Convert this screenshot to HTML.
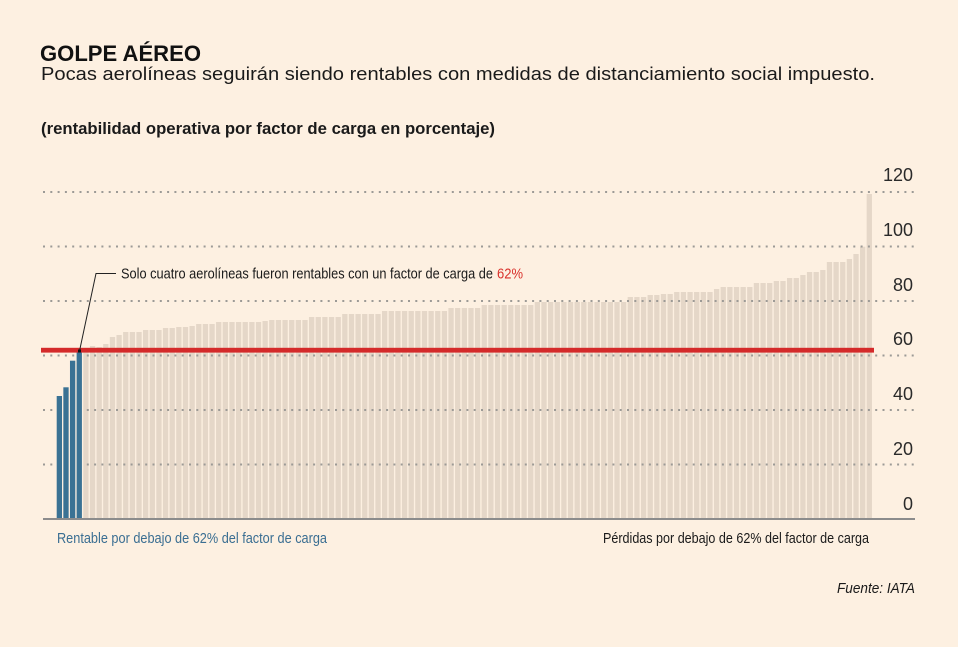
<!DOCTYPE html>
<html>
<head>
<meta charset="utf-8">
<style>
html,body{margin:0;padding:0;background:#fdf0e1;}
svg{display:block;}
text{font-family:"Liberation Sans",Arial,sans-serif;}
</style>
</head>
<body>
<svg width="958" height="647" viewBox="0 0 958 647" xmlns="http://www.w3.org/2000/svg">
<rect x="0" y="0" width="958" height="647" fill="#fdf0e1"/>

<!-- Titles -->
<text x="40" y="61" font-size="22" font-weight="bold" fill="#111" textLength="161" lengthAdjust="spacingAndGlyphs">GOLPE AÉREO</text>
<text x="41" y="80" font-size="18.5" fill="#1a1a1a" textLength="834" lengthAdjust="spacingAndGlyphs">Pocas aerolíneas seguirán siendo rentables con medidas de distanciamiento social impuesto.</text>
<text x="41" y="134" font-size="17" font-weight="bold" fill="#1a1a1a" textLength="454" lengthAdjust="spacingAndGlyphs">(rentabilidad operativa por factor de carga en porcentaje)</text>

<!-- Beige bars -->
<g fill="#e5d7c8">
<rect x="83.26" y="348" width="5.3" height="171"/>
<rect x="89.90" y="346" width="5.3" height="173"/>
<rect x="96.53" y="347" width="5.3" height="172"/>
<rect x="103.17" y="344" width="5.3" height="175"/>
<rect x="109.81" y="337" width="5.3" height="182"/>
<rect x="116.45" y="335" width="5.3" height="184"/>
<rect x="123.09" y="332" width="5.3" height="187"/>
<rect x="129.73" y="332" width="5.3" height="187"/>
<rect x="136.37" y="332" width="5.3" height="187"/>
<rect x="143.01" y="330" width="5.3" height="189"/>
<rect x="149.65" y="330" width="5.3" height="189"/>
<rect x="156.29" y="330" width="5.3" height="189"/>
<rect x="162.92" y="328" width="5.3" height="191"/>
<rect x="169.56" y="328" width="5.3" height="191"/>
<rect x="176.20" y="327" width="5.3" height="192"/>
<rect x="182.84" y="327" width="5.3" height="192"/>
<rect x="189.48" y="326" width="5.3" height="193"/>
<rect x="196.12" y="324" width="5.3" height="195"/>
<rect x="202.76" y="324" width="5.3" height="195"/>
<rect x="209.40" y="324" width="5.3" height="195"/>
<rect x="216.04" y="322" width="5.3" height="197"/>
<rect x="222.68" y="322" width="5.3" height="197"/>
<rect x="229.31" y="322" width="5.3" height="197"/>
<rect x="235.95" y="322" width="5.3" height="197"/>
<rect x="242.59" y="322" width="5.3" height="197"/>
<rect x="249.23" y="322" width="5.3" height="197"/>
<rect x="255.87" y="322" width="5.3" height="197"/>
<rect x="262.51" y="321" width="5.3" height="198"/>
<rect x="269.15" y="320" width="5.3" height="199"/>
<rect x="275.79" y="320" width="5.3" height="199"/>
<rect x="282.43" y="320" width="5.3" height="199"/>
<rect x="289.07" y="320" width="5.3" height="199"/>
<rect x="295.70" y="320" width="5.3" height="199"/>
<rect x="302.34" y="320" width="5.3" height="199"/>
<rect x="308.98" y="317" width="5.3" height="202"/>
<rect x="315.62" y="317" width="5.3" height="202"/>
<rect x="322.26" y="317" width="5.3" height="202"/>
<rect x="328.90" y="317" width="5.3" height="202"/>
<rect x="335.54" y="317" width="5.3" height="202"/>
<rect x="342.18" y="314" width="5.3" height="205"/>
<rect x="348.82" y="314" width="5.3" height="205"/>
<rect x="355.46" y="314" width="5.3" height="205"/>
<rect x="362.09" y="314" width="5.3" height="205"/>
<rect x="368.73" y="314" width="5.3" height="205"/>
<rect x="375.37" y="314" width="5.3" height="205"/>
<rect x="382.01" y="311" width="5.3" height="208"/>
<rect x="388.65" y="311" width="5.3" height="208"/>
<rect x="395.29" y="311" width="5.3" height="208"/>
<rect x="401.93" y="311" width="5.3" height="208"/>
<rect x="408.57" y="311" width="5.3" height="208"/>
<rect x="415.21" y="311" width="5.3" height="208"/>
<rect x="421.85" y="311" width="5.3" height="208"/>
<rect x="428.48" y="311" width="5.3" height="208"/>
<rect x="435.12" y="311" width="5.3" height="208"/>
<rect x="441.76" y="311" width="5.3" height="208"/>
<rect x="448.40" y="308" width="5.3" height="211"/>
<rect x="455.04" y="308" width="5.3" height="211"/>
<rect x="461.68" y="308" width="5.3" height="211"/>
<rect x="468.32" y="308" width="5.3" height="211"/>
<rect x="474.96" y="308" width="5.3" height="211"/>
<rect x="481.60" y="305" width="5.3" height="214"/>
<rect x="488.24" y="305" width="5.3" height="214"/>
<rect x="494.87" y="305" width="5.3" height="214"/>
<rect x="501.51" y="305" width="5.3" height="214"/>
<rect x="508.15" y="305" width="5.3" height="214"/>
<rect x="514.79" y="305" width="5.3" height="214"/>
<rect x="521.43" y="305" width="5.3" height="214"/>
<rect x="528.07" y="305" width="5.3" height="214"/>
<rect x="534.71" y="302" width="5.3" height="217"/>
<rect x="541.35" y="302" width="5.3" height="217"/>
<rect x="547.99" y="302" width="5.3" height="217"/>
<rect x="554.63" y="302" width="5.3" height="217"/>
<rect x="561.26" y="302" width="5.3" height="217"/>
<rect x="567.90" y="302" width="5.3" height="217"/>
<rect x="574.54" y="302" width="5.3" height="217"/>
<rect x="581.18" y="302" width="5.3" height="217"/>
<rect x="587.82" y="302" width="5.3" height="217"/>
<rect x="594.46" y="302" width="5.3" height="217"/>
<rect x="601.10" y="302" width="5.3" height="217"/>
<rect x="607.74" y="302" width="5.3" height="217"/>
<rect x="614.38" y="302" width="5.3" height="217"/>
<rect x="621.02" y="302" width="5.3" height="217"/>
<rect x="627.65" y="297" width="5.3" height="222"/>
<rect x="634.29" y="297" width="5.3" height="222"/>
<rect x="640.93" y="297" width="5.3" height="222"/>
<rect x="647.57" y="295" width="5.3" height="224"/>
<rect x="654.21" y="295" width="5.3" height="224"/>
<rect x="660.85" y="294" width="5.3" height="225"/>
<rect x="667.49" y="294" width="5.3" height="225"/>
<rect x="674.13" y="292" width="5.3" height="227"/>
<rect x="680.77" y="292" width="5.3" height="227"/>
<rect x="687.41" y="292" width="5.3" height="227"/>
<rect x="694.04" y="292" width="5.3" height="227"/>
<rect x="700.68" y="292" width="5.3" height="227"/>
<rect x="707.32" y="292" width="5.3" height="227"/>
<rect x="713.96" y="289" width="5.3" height="230"/>
<rect x="720.60" y="287" width="5.3" height="232"/>
<rect x="727.24" y="287" width="5.3" height="232"/>
<rect x="733.88" y="287" width="5.3" height="232"/>
<rect x="740.52" y="287" width="5.3" height="232"/>
<rect x="747.16" y="287" width="5.3" height="232"/>
<rect x="753.80" y="283" width="5.3" height="236"/>
<rect x="760.43" y="283" width="5.3" height="236"/>
<rect x="767.07" y="283" width="5.3" height="236"/>
<rect x="773.71" y="281" width="5.3" height="238"/>
<rect x="780.35" y="281" width="5.3" height="238"/>
<rect x="786.99" y="278" width="5.3" height="241"/>
<rect x="793.63" y="278" width="5.3" height="241"/>
<rect x="800.27" y="275" width="5.3" height="244"/>
<rect x="806.91" y="272" width="5.3" height="247"/>
<rect x="813.55" y="272" width="5.3" height="247"/>
<rect x="820.19" y="270" width="5.3" height="249"/>
<rect x="826.82" y="262" width="5.3" height="257"/>
<rect x="833.46" y="262" width="5.3" height="257"/>
<rect x="840.10" y="262" width="5.3" height="257"/>
<rect x="846.74" y="259" width="5.3" height="260"/>
<rect x="853.38" y="254" width="5.3" height="265"/>
<rect x="860.02" y="246.7" width="5.3" height="272.3"/>
<rect x="866.66" y="194" width="5.3" height="325"/>
</g>

<!-- Dotted gridlines -->
<g stroke="#9c9a96" stroke-width="2" stroke-dasharray="2 5.3" fill="none">
<line x1="43" y1="192" x2="916" y2="192"/>
<line x1="43" y1="246.5" x2="916" y2="246.5"/>
<line x1="43" y1="301" x2="916" y2="301"/>
<line x1="43" y1="355.5" x2="916" y2="355.5"/>
<line x1="43" y1="410" x2="916" y2="410"/>
<line x1="43" y1="464.5" x2="916" y2="464.5"/>
</g>

<!-- Blue bars -->
<g fill="#3a7294">
<rect x="56.70" y="396" width="5.3" height="123"/>
<rect x="63.34" y="387.3" width="5.3" height="131.7"/>
<rect x="69.98" y="360.7" width="5.3" height="158.3"/>
<rect x="76.62" y="352" width="5.3" height="167"/>
</g>

<!-- Baseline -->
<line x1="43" y1="519" x2="915" y2="519" stroke="#8c8c8c" stroke-width="2"/>

<!-- Red line at 62% -->
<rect x="41" y="347.8" width="833" height="4.8" fill="#d42a2a"/>

<!-- Leader -->
<polyline points="116,273.5 96,273.5 79.5,351" fill="none" stroke="#222" stroke-width="1"/>
<rect x="78" y="349.5" width="3" height="3" fill="#111"/>

<!-- Annotation -->
<text x="121" y="278.5" font-size="14.5" fill="#1a1a1a" textLength="372" lengthAdjust="spacingAndGlyphs">Solo cuatro aerolíneas fueron rentables con un factor de carga de</text>
<text x="497" y="278.5" font-size="14.5" fill="#d9312b" textLength="26" lengthAdjust="spacingAndGlyphs">62%</text>

<!-- Y axis labels -->
<g font-size="18" fill="#2a2a2a" text-anchor="end">
<text x="913" y="181">120</text>
<text x="913" y="236">100</text>
<text x="913" y="291">80</text>
<text x="913" y="345">60</text>
<text x="913" y="400">40</text>
<text x="913" y="455">20</text>
<text x="913" y="510">0</text>
</g>

<!-- Bottom labels -->
<text x="57" y="543" font-size="14.5" fill="#3a6e92" textLength="270" lengthAdjust="spacingAndGlyphs">Rentable por debajo de 62% del factor de carga</text>
<text x="603" y="543" font-size="14.5" fill="#1a1a1a" textLength="266" lengthAdjust="spacingAndGlyphs">Pérdidas por debajo de 62% del factor de carga</text>
<text x="837" y="593" font-size="15" font-style="italic" fill="#1a1a1a" textLength="78" lengthAdjust="spacingAndGlyphs">Fuente: IATA</text>
</svg>
</body>
</html>
